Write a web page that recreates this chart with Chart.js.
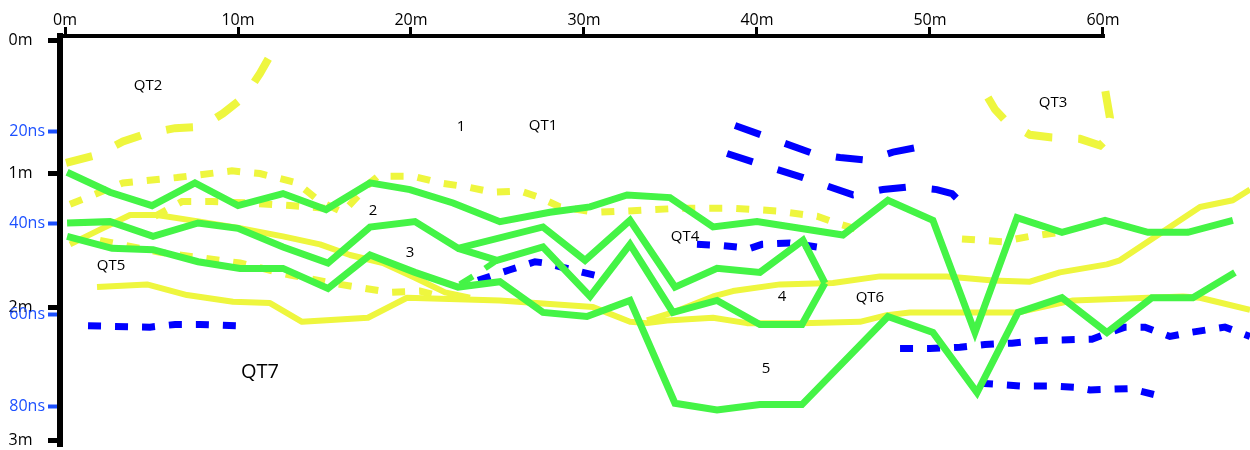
<!DOCTYPE html>
<html>
<head>
<meta charset="utf-8">
<script src="https://cdn.jsdelivr.net/npm/chart.js@4.4.1/dist/chart.umd.min.js"></script>
<style>
  html, body { margin: 0; padding: 0; background: #fff; }
  #wrap { width: 1250px; height: 450px; }
</style>
</head>
<body>
<div id="wrap"><canvas id="profile" width="1250" height="450"></canvas></div>
<script>
// axis ticks: distance along the top, depth (m) and two-way time (ns) on the left
const distanceTicks = [0, 10, 20, 30, 40, 50, 60];
const depthTicks = [0, 1, 2, 3];
const timeTicks = [20, 40, 60, 80];
const metresPerNs = 0.0343;

// interpreted reflectors, [distance m, depth m]
const greenTop = [[0.12,0.99],[2.60,1.14],[5.03,1.24],[7.51,1.07],[10.00,1.24],[12.60,1.15],[15.09,1.27],[17.63,1.07],[19.94,1.12],[22.43,1.22],[25.14,1.36],[28.03,1.29],[30.35,1.25],[32.49,1.16],[34.97,1.18],[37.46,1.40],[40.00,1.36],[44.97,1.46],[47.57,1.20],[50.17,1.35],[52.60,2.19],[55.03,1.33],[57.63,1.44],[60.12,1.35],[62.60,1.44],[64.91,1.44],[67.51,1.35]];
const greenMid = [[0.12,1.37],[2.60,1.36],[5.09,1.47],[7.69,1.37],[10.00,1.41],[12.60,1.55],[15.20,1.67],[17.63,1.40],[20.23,1.36],[22.72,1.56],[27.63,1.40],[30.06,1.65],[32.66,1.35],[35.26,1.85],[37.69,1.71],[40.17,1.74],[42.66,1.50],[43.93,1.82]];
const greenLens = [[22.72,1.56],[24.97,1.65],[27.63,1.55],[30.35,1.92],[32.66,1.53],[35.14,2.04],[37.69,1.95],[40.17,2.13],[42.60,2.13],[43.93,1.82]];
const greenLow = [[0.12,1.47],[2.72,1.56],[5.09,1.57],[7.69,1.66],[10.12,1.71],[12.60,1.71],[15.20,1.86],[17.63,1.61],[20.23,1.74],[22.72,1.85],[25.14,1.81],[27.63,2.04],[30.17,2.07],[32.66,1.95],[35.26,2.72],[37.69,2.77],[40.17,2.73],[42.60,2.73],[47.57,2.07],[50.17,2.19],[52.72,2.64],[55.09,2.04],[57.63,1.93],[60.23,2.19],[62.83,1.93],[65.20,1.93],[67.63,1.74]];
const greenSpurA = [[24.28,1.71],[24.97,1.65]];
const greenSpurB = [[22.83,1.83],[23.58,1.77]];

const yellowUpper = [[0.29,1.53],[2.02,1.42],[3.76,1.31],[5.32,1.31],[7.80,1.36],[10.12,1.41],[12.60,1.47],[14.74,1.53],[16.47,1.61],[18.38,1.67],[20.23,1.78],[21.97,1.89],[23.41,1.93]];
const yellowLower = [[1.85,1.85],[4.74,1.83],[7.05,1.91],[9.71,1.96],[11.85,1.97],[13.70,2.11],[17.51,2.08],[19.77,1.93],[25.14,1.95],[30.52,2.00],[32.66,2.11],[33.64,2.12],[34.80,2.10],[37.46,2.08],[39.42,2.12],[42.60,2.12],[45.95,2.11],[47.51,2.06],[48.84,2.04],[55.03,2.04],[58.27,1.95],[64.62,1.92],[65.61,1.93],[68.50,2.02]];
const yellowRight = [[33.64,2.10],[35.14,2.04],[37.46,1.92],[38.61,1.88],[41.33,1.83],[44.39,1.82],[47.11,1.77],[50.98,1.77],[53.64,1.80],[55.78,1.81],[57.51,1.74],[60.23,1.68],[60.98,1.65],[62.72,1.50],[65.61,1.25],[67.51,1.20],[68.50,1.12]];

const qt2Edge = [[0.06,0.92],[1.85,0.86],[3.35,0.76],[4.74,0.70],[6.36,0.66],[7.92,0.65],[9.13,0.55],[10.40,0.42],[11.27,0.25],[12.02,0.08]];
const qt1Base = [[0.29,1.23],[3.35,1.07],[6.47,1.03],[9.65,0.98],[11.27,1.00],[13.41,1.07],[14.74,1.21],[16.07,1.29],[17.63,1.07],[18.09,1.02],[20.12,1.02],[21.68,1.07],[23.24,1.10],[24.74,1.14],[26.30,1.13],[27.46,1.18],[28.61,1.25],[30.75,1.29],[32.49,1.28],[35.55,1.26],[38.61,1.26],[41.16,1.28],[43.47,1.32],[44.80,1.38],[46.42,1.44]];
const qt1Split = [[5.20,1.32],[6.76,1.21],[8.50,1.21],[10.52,1.22],[13.01,1.24],[15.03,1.26]];
const qt1East = [[51.85,1.49],[54.16,1.51],[55.78,1.47],[57.51,1.44]];
const qt5Top = [[2.02,1.50],[5.49,1.59],[10.12,1.67],[13.01,1.76],[15.90,1.83],[18.79,1.89],[20.52,1.88],[21.97,1.93]];
const qt3Edge = [[53.35,0.43],[53.76,0.52],[54.34,0.60],[55.78,0.71],[57.05,0.73],[58.67,0.74],[59.83,0.79],[60.06,0.76],[60.40,0.58],[60.12,0.37]];

const blueArcA = [[38.73,0.64],[43.24,0.85],[44.80,0.88],[46.36,0.90],[47.86,0.84],[49.42,0.80]];
const blueArcB = [[38.27,0.85],[40.17,0.93],[42.66,1.03],[45.55,1.16],[47.28,1.12],[48.73,1.10],[50.40,1.12],[51.27,1.15],[51.73,1.21]];
const blueQt4 = [[36.53,1.53],[38.03,1.54],[39.60,1.56],[40.29,1.53],[41.91,1.52],[43.47,1.55]];
const blueMid = [[23.87,1.80],[25.72,1.72],[27.17,1.66],[27.75,1.67],[29.31,1.72],[30.92,1.77]];
const blueQt7 = [[1.33,2.14],[4.91,2.15],[6.36,2.13],[7.80,2.13],[10.00,2.14]];
const blueQt6 = [[48.27,2.31],[50.00,2.31],[51.73,2.30],[53.18,2.28],[54.74,2.27],[56.36,2.25],[59.36,2.24],[60.40,2.19],[61.27,2.15],[62.43,2.15],[63.87,2.22],[65.03,2.19],[67.05,2.15],[68.50,2.22]];
const blueDeep = [[52.89,2.57],[55.20,2.59],[56.94,2.59],[58.38,2.60],[59.25,2.62],[61.56,2.61],[63.12,2.66]];

// unit names and their anchor points
const labelText = ['QT2', '1', 'QT1', 'QT3', '2', '3', 'QT5', 'QT4', '4', 'QT6', 'QT7', '5'];
const labelX = [4.80, 22.89, 27.63, 57.11, 17.80, 19.94, 2.66, 35.84, 41.45, 46.53, 11.27, 40.52];
const labelY = [0.34, 0.65, 0.64, 0.47, 1.28, 1.59, 1.69, 1.47, 1.92, 1.93, 2.49, 2.46];

const GREEN = '#44f446';
const YELLOW = '#eef63e';
const BLUE = '#0000ff';
const NS_BLUE = '#1c50ff';
const FONT = 'Open Sans';

const yTickList = depthTicks.map(v => ({ value: v, label: v + 'm   ', time: false }))
  .concat(timeTicks.map(v => ({ value: v * metresPerNs, label: v + 'ns', time: true })))
  .sort((a, b) => a.value - b.value);

function line(points, color, width, dash, order, join) {
  return {
    data: points.map(p => ({ x: p[0], y: p[1] })),
    borderColor: color,
    borderWidth: width,
    borderDash: dash || [],
    borderJoinStyle: join || 'miter',
    pointRadius: 0,
    tension: 0,
    fill: false,
    clip: false,
    order: order
  };
}

const shortDash = [13, 14];
const longDash = [27, 26];

const datasets = [
  line(greenTop, GREEN, 7, null, 0),
  line(greenMid, GREEN, 7, null, 0),
  line(greenLens, GREEN, 7, null, 0),
  line(greenLow, GREEN, 7, null, 0),
  line(greenSpurA, GREEN, 6, null, 0),
  line(greenSpurB, GREEN, 6, null, 0),
  line(blueArcA, BLUE, 7, longDash, 1),
  line(blueArcB, BLUE, 7, longDash, 1),
  line(blueQt4, BLUE, 7, shortDash, 1),
  line(blueMid, BLUE, 7, shortDash, 1),
  line(blueQt7, BLUE, 7, shortDash, 1),
  line(blueQt6, BLUE, 7, shortDash, 1),
  line(blueDeep, BLUE, 7, shortDash, 1),
  line(yellowUpper, YELLOW, 6, null, 2, 'round'),
  line(yellowLower, YELLOW, 6, null, 2, 'round'),
  line(yellowRight, YELLOW, 6, null, 2, 'round'),
  line(qt2Edge, YELLOW, 8, longDash, 2),
  line(qt1Base, YELLOW, 7, shortDash, 2),
  line(qt1Split, YELLOW, 7, shortDash, 2),
  line(qt1East, YELLOW, 7, shortDash, 2),
  line(qt5Top, YELLOW, 7, shortDash, 2),
  line(qt3Edge, YELLOW, 8, longDash, 2)
];

const overlay = {
  id: 'overlay',
  afterDatasetsDraw(chart) {
    const { ctx, chartArea, scales: { x, y } } = chart;
    ctx.save();
    // distance axis line stops at the last tick
    ctx.strokeStyle = '#000';
    ctx.lineWidth = 4;
    ctx.beginPath();
    ctx.moveTo(chartArea.left - 3, chartArea.top);
    ctx.lineTo(x.getPixelForValue(distanceTicks[distanceTicks.length - 1]) + 2, chartArea.top);
    ctx.stroke();

    ctx.fillStyle = '#000';
    ctx.textAlign = 'center';
    ctx.textBaseline = 'middle';
    labelText.forEach((t, i) => {
      ctx.font = (t === 'QT7' ? 20 : 15) + 'px "' + FONT + '"';
      ctx.fillText(t, x.getPixelForValue(labelX[i]), y.getPixelForValue(labelY[i]));
    });
    ctx.restore();
  }
};

new Chart(document.getElementById('profile'), {
  type: 'line',
  data: { datasets: datasets },
  options: {
    responsive: false,
    animation: false,
    devicePixelRatio: 1,
    layout: { padding: { top: 0, left: 0, right: 0, bottom: 4 } },
    plugins: { legend: { display: false }, tooltip: { enabled: false } },
    scales: {
      x: {
        type: 'linear',
        position: 'top',
        min: -0.29,
        max: 68.5,
        afterBuildTicks: s => { s.ticks = distanceTicks.map(v => ({ value: v })); },
        afterFit: s => { s.height = 36; s.paddingLeft = 0; s.paddingRight = 0; },
        ticks: {
          callback: v => v + 'm',
          color: '#000',
          font: { family: FONT, size: 16 },
          padding: -3,
          maxRotation: 0,
          autoSkip: false
        },
        grid: { drawOnChartArea: false, tickLength: 9, tickWidth: 3, tickColor: '#000' },
        border: { display: false }
      },
      y: {
        type: 'linear',
        position: 'left',
        reverse: true,
        min: -0.03,
        max: 3.04,
        afterBuildTicks: s => { s.ticks = yTickList.map(t => ({ value: t.value })); },
        afterFit: s => { s.width = 60; s.paddingTop = 0; s.paddingBottom = 0; },
        ticks: {
          callback: (v, i) => yTickList[i].label,
          color: c => yTickList[c.index] && yTickList[c.index].time ? NS_BLUE : '#000',
          font: { family: FONT, size: 16 },
          padding: 3,
          autoSkip: false
        },
        grid: {
          drawOnChartArea: false,
          tickLength: 12,
          tickWidth: c => (yTickList[c.index] && yTickList[c.index].time ? 4 : 5),
          tickColor: c => (yTickList[c.index] && yTickList[c.index].time ? NS_BLUE : '#000')
        },
        border: { display: true, width: 6, color: '#000' }
      }
    }
  },
  plugins: [overlay]
});
</script>
</body>
</html>
